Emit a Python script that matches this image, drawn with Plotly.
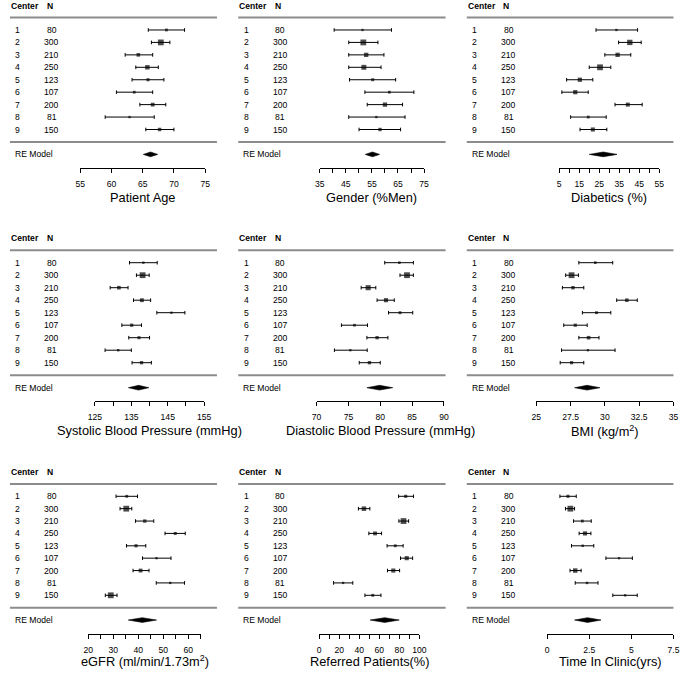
import plotly.graph_objects as go

W, H = 689, 673

# ---------------- data ----------------
centers = ["1", "2", "3", "4", "5", "6", "7", "8", "9"]
n_pat = ["80", "300", "210", "250", "123", "107", "200", "81", "150"]

age_est = [68.8, 67.9, 64.3, 65.75, 65.85, 63.65, 66.6, 62.9, 67.7]
age_lo = [65.9, 66.4, 62.2, 63.9, 63.3, 60.8, 64.55, 59.0, 65.5]
age_hi = [71.7, 69.35, 66.6, 67.5, 68.4, 66.6, 68.7, 66.85, 70.0]
age_re = [65.1, 66.25, 67.4]
age_ticks = [55, 60, 65, 70, 75]
age_labels = ["55", "60", "65", "70", "75"]

men_est = [51.4, 51.7, 52.8, 51.9, 55.3, 61.7, 60.0, 56.7, 58.1]
men_lo = [40.5, 46.1, 46.1, 46.1, 46.4, 52.3, 53.2, 46.1, 50.05]
men_hi = [62.5, 57.3, 59.6, 58.5, 64.1, 71.1, 66.75, 67.7, 66.0]
men_re = [52.45, 55.2, 57.95]
men_ticks = [35, 40, 45, 50, 55, 60, 65, 70, 75]
men_labels = ["35", "", "45", "", "55", "", "65", "", "75"]

dia_est = [33.6, 40.3, 34.2, 25.4, 15.3, 13.0, 39.3, 19.5, 21.8]
dia_lo = [23.4, 34.7, 27.8, 20.0, 8.7, 6.3, 32.9, 10.7, 15.4]
dia_hi = [44.2, 46.0, 40.8, 30.8, 21.8, 19.5, 46.5, 28.5, 28.8]
dia_re = [20.0, 27.0, 33.9]
dia_ticks = [5, 10, 15, 20, 25, 30, 35, 40, 45, 50, 55]
dia_labels = ["5", "", "15", "", "25", "", "35", "", "45", "", "55"]

sbp_est = [138.3, 138.1, 131.6, 137.9, 146.0, 135.1, 137.1, 131.4, 137.8]
sbp_lo = [134.5, 136.4, 129.2, 135.6, 142.0, 132.4, 134.3, 127.8, 135.2]
sbp_hi = [142.1, 139.9, 134.1, 140.3, 149.7, 137.8, 140.0, 135.0, 140.5]
sbp_re = [134.2, 137.0, 139.8]
sbp_ticks = [125, 130, 135, 140, 145, 150, 155]
sbp_labels = ["125", "", "135", "", "145", "", "155"]

dbp_est = [83.0, 84.2, 78.1, 80.9, 83.1, 75.95, 79.5, 75.3, 78.3]
dbp_lo = [80.7, 83.1, 77.0, 79.5, 81.3, 73.9, 77.9, 72.8, 76.7]
dbp_hi = [85.2, 85.2, 79.3, 82.2, 85.1, 78.0, 81.2, 77.95, 80.0]
dbp_re = [77.9, 79.9, 81.95]
dbp_ticks = [70, 75, 80, 85, 90]
dbp_labels = ["70", "75", "80", "85", "90"]

bmi_est = [29.3, 27.57, 27.67, 31.6, 29.39, 27.84, 28.81, 28.76, 27.57]
bmi_lo = [28.1, 27.14, 26.9, 30.86, 28.36, 27.0, 28.1, 26.84, 26.74]
bmi_hi = [30.57, 28.07, 28.46, 32.36, 30.43, 28.71, 29.57, 30.74, 28.46]
bmi_re = [27.79, 28.7, 29.64]
bmi_ticks = [25, 27.5, 30, 32.5, 35]
bmi_labels = ["25", "27.5", "30", "32.5", "35"]

gfr_est = [35.4, 35.2, 42.6, 54.8, 39.1, 47.3, 40.9, 52.8, 29.0]
gfr_lo = [31.1, 32.7, 38.9, 50.7, 35.3, 41.7, 37.9, 47.2, 26.8]
gfr_hi = [39.7, 37.4, 46.2, 58.8, 43.0, 53.1, 44.3, 58.5, 31.5]
gfr_re = [36.0, 41.6, 47.3]
gfr_ticks = [20, 25, 30, 35, 40, 45, 50, 55, 60, 65]
gfr_labels = ["20", "", "30", "", "40", "", "50", "", "60", ""]

ref_est = [86.3, 44.6, 84.1, 55.7, 75.9, 87.3, 73.9, 23.8, 53.4]
ref_lo = [79.2, 39.1, 79.5, 49.5, 67.7, 81.1, 68.1, 14.3, 45.6]
ref_hi = [94.1, 50.5, 89.2, 62.2, 83.7, 93.2, 80.2, 33.5, 61.6]
ref_re = [50.8, 65.3, 79.8]
ref_ticks = [0, 10, 20, 30, 40, 50, 60, 70, 80, 90, 100]
ref_labels = ["0", "", "20", "", "40", "", "60", "", "80", "", "100"]

tic_est = [1.24, 1.38, 2.09, 2.25, 2.11, 4.27, 1.67, 2.37, 4.63]
tic_lo = [0.76, 1.09, 1.57, 1.90, 1.45, 3.49, 1.36, 1.67, 3.90]
tic_hi = [1.73, 1.63, 2.62, 2.60, 2.77, 5.06, 2.02, 3.02, 5.35]
tic_re = [1.63, 2.4, 3.2]
tic_ticks = [0, 2.5, 5, 7.5]
tic_labels = ["0", "2.5", "5", "7.5"]

titles = ["Patient Age", "Gender (%Men)", "Diabetics (%)",
          "Systolic Blood Pressure (mmHg)", "Diastolic Blood Pressure (mmHg)",
          "BMI (kg/m<sup>2</sup>)",
          "eGFR (ml/min/1.73m<sup>2</sup>)", "Referred Patients(%)",
          "Time In Clinic(yrs)"]

panels = [
    (age_est, age_lo, age_hi, age_re, age_ticks, age_labels),
    (men_est, men_lo, men_hi, men_re, men_ticks, men_labels),
    (dia_est, dia_lo, dia_hi, dia_re, dia_ticks, dia_labels),
    (sbp_est, sbp_lo, sbp_hi, sbp_re, sbp_ticks, sbp_labels),
    (dbp_est, dbp_lo, dbp_hi, dbp_re, dbp_ticks, dbp_labels),
    (bmi_est, bmi_lo, bmi_hi, bmi_re, bmi_ticks, bmi_labels),
    (gfr_est, gfr_lo, gfr_hi, gfr_re, gfr_ticks, gfr_labels),
    (ref_est, ref_lo, ref_hi, ref_re, ref_ticks, ref_labels),
    (tic_est, tic_lo, tic_hi, tic_re, tic_ticks, tic_labels),
]

# ---------------- layout constants (pixels) ----------------
col_line = [(3.0, 214.3), (236.0, 447.7), (469.3, 680.3)]
axis_px = [(74.7, 202.3), (319.3, 425.7), (563.7, 665.7),
           (89.7, 201.3), (316.0, 446.0), (540.3, 680.3),
           (83.0, 197.75), (318.7, 421.0), (551.3, 680.3)]
# (pixel of row 1, pixels per row, axis line pixel, top pixel, title pixel, label standoff)
bands = [(129.5, 12.44, 168.0, 0.0, 197.0, 4),
         (362.7, 12.5, 401.0, 225.0, 431.0, 4),
         (595.3, 12.375, 634.3, 455.0, 661.0, 3)]

FONT = "Liberation Sans, Arial, sans-serif"
FS = 8.6
GRAY = "#8c8c8c"


def px(x):
    return x / W


def py(y):
    return 1 - y / H


def marker_sizes(lo, hi):
    w = [1.0 / (h - l) ** 2 for l, h in zip(lo, hi)]
    mn, mx = min(w), max(w)
    return [2.3 + 3.5 * (wi - mn) / (mx - mn) for wi in w]


fig = go.Figure()
annotations = []
shapes = []
layout_axes = {}

rows = [10 - i for i in range(1, 10)]  # center 1 at row 9 ... center 9 at row 1

for p, (est, lo, hi, re, tvals, tlabels) in enumerate(panels):
    r, c = divmod(p, 3)
    k = p + 1
    xa = "x" if k == 1 else f"x{k}"
    ya = "y" if k == 1 else f"y{k}"
    xkey = "xaxis" if k == 1 else f"xaxis{k}"
    ykey = "yaxis" if k == 1 else f"yaxis{k}"
    y1, s, yA, ytop, ytitle, standoff = bands[r]
    ax0, ax1 = axis_px[p]
    l0, l1 = col_line[c]

    layout_axes[xkey] = dict(
        domain=[px(ax0), px(ax1)], range=[tvals[0], tvals[-1]], anchor=ya,
        tickmode="array", tickvals=tvals, ticktext=tlabels,
        ticks="outside", ticklen=4, tickwidth=1, tickcolor="black",
        showline=True, linecolor="black", linewidth=1,
        showgrid=False, zeroline=False, fixedrange=True,
        tickfont=dict(family=FONT, size=FS, color="black"),
        ticklabelstandoff=standoff,
    )
    layout_axes[ykey] = dict(
        domain=[py(yA), py(ytop)],
        range=[1 - (yA - y1) / s, 1 + (y1 - ytop) / s],
        anchor=xa, visible=False, fixedrange=True,
    )

    fig.add_trace(go.Scatter(
        x=est, y=rows, mode="markers", xaxis=xa, yaxis=ya,
        marker=dict(symbol="square", color="black",
                    size=marker_sizes(lo, hi), line=dict(width=0)),
        error_x=dict(type="data", symmetric=False,
                     array=[h - e for h, e in zip(hi, est)],
                     arrayminus=[e - l for e, l in zip(est, lo)],
                     color="black", thickness=1, width=1.8),
        showlegend=False, hoverinfo="skip", cliponaxis=False,
    ))
    dh = 0.19
    fig.add_trace(go.Scatter(
        x=[re[0], re[1], re[2], re[1], re[0]],
        y=[-1, -1 + dh, -1, -1 - dh, -1],
        mode="lines", fill="toself", fillcolor="black",
        line=dict(color="black", width=0.6),
        xaxis=xa, yaxis=ya, showlegend=False, hoverinfo="skip",
    ))

    for yy in (10, 0):
        shapes.append(dict(type="line", xref="paper", yref=ya,
                           x0=px(l0), x1=px(l1), y0=yy, y1=yy,
                           line=dict(color=GRAY, width=2)))

    base = dict(xref="paper", yref=ya, showarrow=False, borderpad=0,
                yanchor="middle", font=dict(family=FONT, size=FS, color="black"))
    annotations.append(dict(base, x=px(l0), y=10.95, xanchor="left",
                            text="<b>Center</b>"))
    annotations.append(dict(base, x=px(l0 + 36.3), y=10.95, xanchor="left",
                            text="<b>N</b>"))
    for cn, nn, yy in zip(centers, n_pat, rows):
        annotations.append(dict(base, x=px(l0 + 4.6), y=yy, xanchor="left", text=cn))
        annotations.append(dict(base, x=px(l0 + 42.7), y=yy, xanchor="center", text=nn))
    annotations.append(dict(base, x=px(l0 + 4.3), y=-1, xanchor="left", text="RE Model"))
    annotations.append(dict(xref=xa + " domain", yref="paper", x=0.5, y=py(ytitle),
                            xanchor="center", yanchor="middle", showarrow=False,
                            text=titles[p],
                            font=dict(family=FONT, size=12.8, color="black")))

fig.update_layout(
    width=W, height=H, autosize=False,
    margin=dict(l=0, r=0, t=0, b=0),
    paper_bgcolor="white", plot_bgcolor="white",
    annotations=annotations, shapes=shapes,
    **layout_axes,
)

# the page's default 8px body margin would push the 689x673 figure out of the window
fig.write_html("out.html", config={"displayModeBar": False},
               post_script="document.body.style.margin='0';")
